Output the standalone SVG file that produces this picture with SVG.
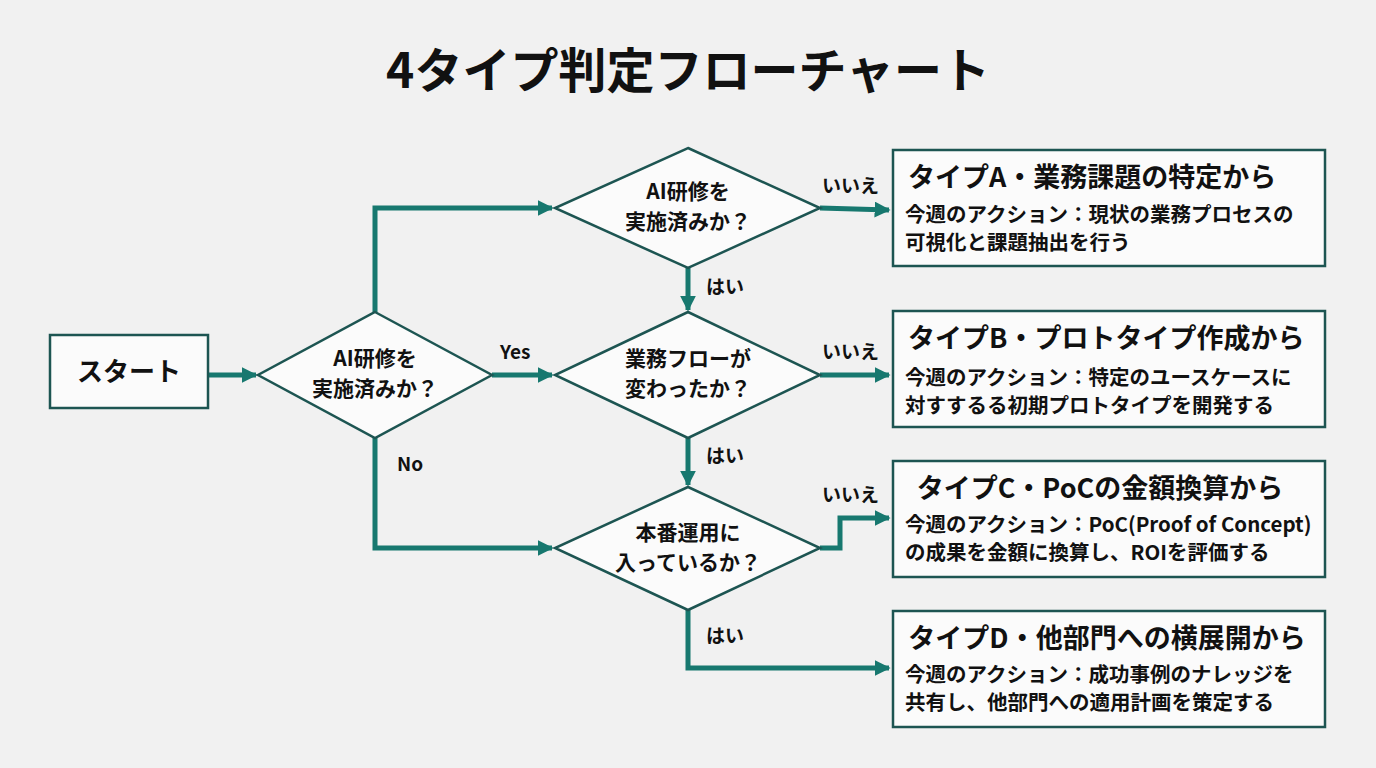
<svg xmlns="http://www.w3.org/2000/svg" width="1376" height="768" viewBox="0 0 1376 768">
<defs>
<marker id="ah" viewBox="0 0 10 10" refX="9" refY="5" markerWidth="3.2" markerHeight="3.2" orient="auto"><path d="M0,0L10,5L0,10z" fill="#17786f"/></marker>
<style>
text{font-family:"Noto Sans CJK JP","Noto Sans",sans-serif;fill:#111;font-weight:bold}
.box{fill:#fbfbfb;stroke:#1d5552;stroke-width:2.5}
.dia{fill:#fbfbfb;stroke:#1d5552;stroke-width:2.5}
.c{fill:none;stroke:#17786f;stroke-width:5;marker-end:url(#ah)}
.d{font-size:21px;text-anchor:middle}
.l{font-size:19px}
.t{font-size:27px}
.b{font-size:20.5px}
</style>
</defs>
<rect width="1376" height="768" fill="#f1f1f1"/>
<text x="688" y="88" font-size="48" text-anchor="middle">4タイプ判定フローチャート</text>
<g id="connectors">
<path class="c" d="M208,375H256"/>
<path class="c" d="M375,312V208H552"/>
<path class="c" d="M492,375H552"/>
<path class="c" d="M375,438V548H552"/>
<path class="c" d="M820,208L889,210"/>
<path class="c" d="M688,268V310"/>
<path class="c" d="M820,375H889"/>
<path class="c" d="M688,438V485"/>
<path class="c" d="M820,548H840V518H889"/>
<path class="c" d="M688,610V668H889"/>
<text class="l" x="500" y="359">Yes</text>
<text class="l" x="397" y="471">No</text>
<text class="l" x="822" y="193">いいえ</text>
<text class="l" x="822" y="359">いいえ</text>
<text class="l" x="822" y="502">いいえ</text>
<text class="l" x="706" y="294">はい</text>
<text class="l" x="706" y="463">はい</text>
<text class="l" x="706" y="643">はい</text>
</g>
<g id="start"><rect class="box" x="50" y="335" width="158" height="73"/><text x="129" y="381" font-size="26" text-anchor="middle">スタート</text></g>
<g id="q1"><path class="dia" d="M375,312L492,375L375,438L258,375z"/><text class="d" x="375" y="366">AI研修を</text><text class="d" x="375" y="396">実施済みか？</text></g>
<g id="q2"><path class="dia" d="M688,148L820,208L688,268L555,208z"/><text class="d" x="688" y="199">AI研修を</text><text class="d" x="688" y="229">実施済みか？</text></g>
<g id="q3"><path class="dia" d="M688,312L820,375L688,438L555,375z"/><text class="d" x="688" y="366">業務フローが</text><text class="d" x="688" y="396">変わったか？</text></g>
<g id="q4"><path class="dia" d="M688,487L820,548L688,610L555,548z"/><text class="d" x="688" y="540">本番運用に</text><text class="d" x="688" y="570">入っているか？</text></g>
<g id="typeA"><rect class="box" x="893" y="150" width="432" height="116"/><text class="t" x="908" y="187">タイプA・業務課題の特定から</text><text class="b" x="905" y="222">今週のアクション：現状の業務プロセスの</text><text class="b" x="905" y="250">可視化と課題抽出を行う</text></g>
<g id="typeB"><rect class="box" x="893" y="311" width="432" height="116"/><text class="t" x="908" y="348">タイプB・プロトタイプ作成から</text><text class="b" x="905" y="385">今週のアクション：特定のユースケースに</text><text class="b" x="905" y="413">対すするる初期プロトタイプを開発する</text></g>
<g id="typeC"><rect class="box" x="893" y="461" width="432" height="116"/><text class="t" x="1100" y="498" text-anchor="middle">タイプC・PoCの金額換算から</text><text class="b" x="905" y="532">今週のアクション：PoC(Proof of Concept)</text><text class="b" x="905" y="560">の成果を金額に換算し、ROIを評価する</text></g>
<g id="typeD"><rect class="box" x="893" y="611" width="432" height="116"/><text class="t" x="1107" y="648" text-anchor="middle">タイプD・他部門への横展開から</text><text class="b" x="905" y="682">今週のアクション：成功事例のナレッジを</text><text class="b" x="905" y="710">共有し、他部門への適用計画を策定する</text></g>
</svg>
